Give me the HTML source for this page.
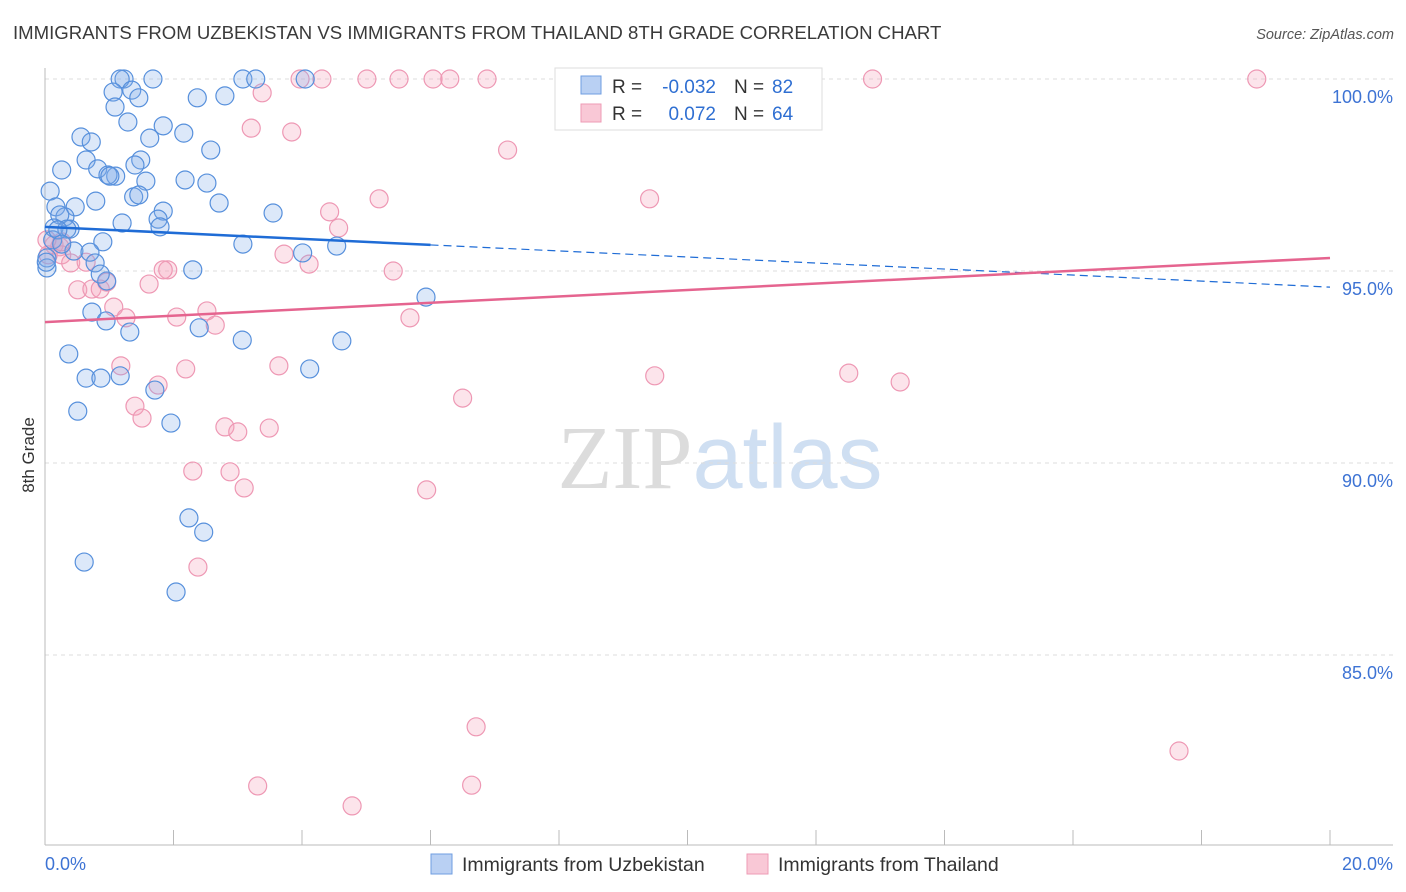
<!DOCTYPE html>
<html><head><meta charset="utf-8"><style>
html,body{margin:0;padding:0;background:#fff;width:1406px;height:892px;overflow:hidden;font-family:"Liberation Sans",sans-serif}
svg text{font-family:"Liberation Sans",sans-serif}
</style></head><body>
<svg id="chart" width="1406" height="892" viewBox="0 0 1406 892">
<text x="13" y="39" font-size="18.6" fill="#3a3a3a">IMMIGRANTS FROM UZBEKISTAN VS IMMIGRANTS FROM THAILAND 8TH GRADE CORRELATION CHART</text>
<text x="1394" y="39" font-size="14.5" fill="#555" text-anchor="end" font-style="italic">Source: ZipAtlas.com</text>
<text x="720" y="488" font-size="90" text-anchor="middle"><tspan fill="#dcdcdc" font-family="Liberation Serif">ZIP</tspan><tspan fill="#cfdff2">atlas</tspan></text>
<g id="grid"></g>
<g id="axes"></g>
<g id="pts"></g>
<g id="trends"></g>
<text transform="translate(34,455) rotate(-90)" font-size="17" fill="#333" text-anchor="middle">8th Grade</text>
<g>
<rect x="555" y="68" width="267" height="62" fill="#fff" stroke="#ddd"/>
<rect x="581" y="76" width="20" height="18" fill="#b9d0f3" stroke="#6f9ee0"/>
<rect x="581" y="104" width="20" height="18" fill="#f9c8d6" stroke="#ee9bb5"/>
<text x="612" y="93" font-size="19" fill="#333">R =</text>
<text x="716" y="93" font-size="19" fill="#2f6fd2" text-anchor="end">-0.032</text>
<text x="734" y="93" font-size="19" fill="#333">N =</text>
<text x="772" y="93" font-size="19" fill="#2f6fd2">82</text>
<text x="612" y="120" font-size="19" fill="#333">R =</text>
<text x="716" y="120" font-size="19" fill="#2f6fd2" text-anchor="end">0.072</text>
<text x="734" y="120" font-size="19" fill="#333">N =</text>
<text x="772" y="120" font-size="19" fill="#2f6fd2">64</text>
</g>
<g>
<rect x="431" y="854" width="21" height="20" fill="#b9d0f3" stroke="#6f9ee0"/>
<text x="462" y="871" font-size="19.5" fill="#333">Immigrants from Uzbekistan</text>
<rect x="747" y="854" width="21" height="20" fill="#f9c8d6" stroke="#ee9bb5"/>
<text x="778" y="871" font-size="19.5" fill="#333">Immigrants from Thailand</text>
</g>
</svg>
<script>
const blueX=[1.23,1.68,3.08,3.28,4.05,1.17,1.06,1.35,1.46,1.09,2.37,2.80,1.29,1.84,0.56,0.72,1.63,2.16,2.58,0.26,0.64,0.82,1.49,1.40,1.10,0.98,1.01,1.57,2.18,2.52,0.08,0.79,1.38,1.46,2.71,1.84,3.55,0.17,0.47,0.31,0.23,1.20,1.76,1.79,0.14,0.39,0.34,0.90,3.08,4.01,4.54,0.45,0.70,0.03,0.03,0.78,0.96,2.30,5.93,0.73,0.95,1.32,2.40,3.07,4.62,0.37,0.64,0.87,1.17,1.71,4.12,0.51,1.96,2.24,2.47,0.61,2.04,0.12,0.02,0.20,0.26,0.86];
const blueY=[100,100,100,100,100,100,99.66,99.71,99.51,99.27,99.51,99.56,98.88,98.78,98.49,98.36,98.46,98.59,98.15,97.63,97.89,97.66,97.89,97.76,97.47,97.50,97.47,97.34,97.37,97.29,97.08,96.82,96.93,96.98,96.77,96.56,96.51,96.67,96.67,96.41,96.46,96.25,96.35,96.15,96.12,96.09,96.09,95.76,95.70,95.47,95.65,95.52,95.49,95.34,95.08,95.21,94.74,95.03,94.32,93.93,93.70,93.41,93.52,93.20,93.18,92.84,92.21,92.21,92.27,91.90,92.45,91.35,91.04,88.57,88.20,87.42,86.64,95.81,95.23,96.07,95.70,94.92];
const pinkX=[3.97,4.31,5.01,5.51,6.04,6.30,6.88,11.27,12.88,18.86,3.38,3.21,3.84,7.20,5.20,9.41,4.43,4.57,3.72,4.11,5.42,1.91,1.84,0.14,0.23,0.05,0.26,0.40,0.64,0.51,0.73,0.86,0.96,1.07,1.26,1.62,2.05,2.52,2.65,5.68,1.18,2.19,3.64,1.76,1.40,1.51,2.80,3.00,3.49,6.50,9.49,12.51,13.31,2.30,2.88,3.10,5.94,2.38,6.71,17.65,3.31,4.78,6.64,0.26,0.03];
const pinkY=[100,100,100,100,100,100,100,100,100,100,99.64,98.72,98.62,98.15,96.88,96.88,96.54,96.12,95.44,95.18,95.0,95.03,95.03,95.68,95.63,95.42,95.42,95.21,95.23,94.51,94.53,94.53,94.71,94.06,93.78,94.66,93.80,93.96,93.59,93.78,92.53,92.45,92.53,92.03,91.48,91.17,90.94,90.81,90.91,91.69,92.27,92.34,92.11,89.79,89.77,89.35,89.30,87.29,83.13,82.50,81.59,81.07,81.61,95.76,95.81];
const blueTrend=[96.15,94.58];
const pinkTrend=[93.67,95.34];
const yTicks=[100,95,90,85];
const yTickLabels=["100.0%","95.0%","90.0%","85.0%"];
const xTickLabels=["0.0%","20.0%"];

const NS="http://www.w3.org/2000/svg";
const xs=v=>45+v/20*1285;
const ys=v=>79+(100-v)*38.4;
function mk(tag,attrs,parent){const e=document.createElementNS(NS,tag);for(const k in attrs)e.setAttribute(k,attrs[k]);parent.appendChild(e);return e;}
const grid=document.getElementById('grid'),axes=document.getElementById('axes'),pts=document.getElementById('pts'),trends=document.getElementById('trends');
yTicks.forEach((t,i)=>{
  const l=mk('line',{x1:45,x2:1393,y1:ys(t),y2:ys(t),stroke:'#ddd','stroke-dasharray':'4,4'},grid);
  
  
  const tx=mk('text',{x:1393,y:ys(t)+24,'font-size':18,fill:'#3d73d4','text-anchor':'end'},axes);
  tx.textContent=yTickLabels[i];
  
  
});
const yAx=mk('line',{x1:45,x2:45,y1:68,y2:845,stroke:'#bbb'},axes);


const xAx=mk('line',{x1:45,x2:1393,y1:845,y2:845,stroke:'#bbb'},axes);


for(let i=0;i<=10;i++){
  const t=mk('line',{x1:xs(i*2),x2:xs(i*2),y1:830,y2:845,stroke:'#bbb'},axes);
  
  
}
[[0,'start',45],[20,'end',1393]].forEach((d,i)=>{
  const tx=mk('text',{x:d[2],y:870,'font-size':18,fill:'#3d73d4','text-anchor':d[1]},axes);
  tx.textContent=xTickLabels[i];
  
  
});
pinkX.forEach((x,i)=>{
  const c=mk('circle',{cx:xs(x),cy:ys(pinkY[i]),r:9,fill:'rgba(244,165,190,0.3)',stroke:'#ee98b4','stroke-width':1.2},pts);
  
  
});
blueX.forEach((x,i)=>{
  const c=mk('circle',{cx:xs(x),cy:ys(blueY[i]),r:9,fill:'rgba(130,172,235,0.28)',stroke:'#5790dc','stroke-width':1.2},pts);
  
  
});
const bAt=x=>blueTrend[0]+(blueTrend[1]-blueTrend[0])*x/20;
const b1=mk('line',{x1:xs(0),y1:ys(bAt(0)),x2:xs(6),y2:ys(bAt(6)),stroke:'#1f6cd6','stroke-width':2.5},trends);


const b2=mk('line',{x1:xs(6),y1:ys(bAt(6)),x2:xs(20),y2:ys(bAt(20)),stroke:'#1f6cd6','stroke-width':1.2,'stroke-dasharray':'8,5'},trends);


const p1=mk('line',{x1:xs(0),y1:ys(pinkTrend[0]),x2:xs(20),y2:ys(pinkTrend[1]),stroke:'#e5648f','stroke-width':2.5},trends);


</script>
</body></html>
